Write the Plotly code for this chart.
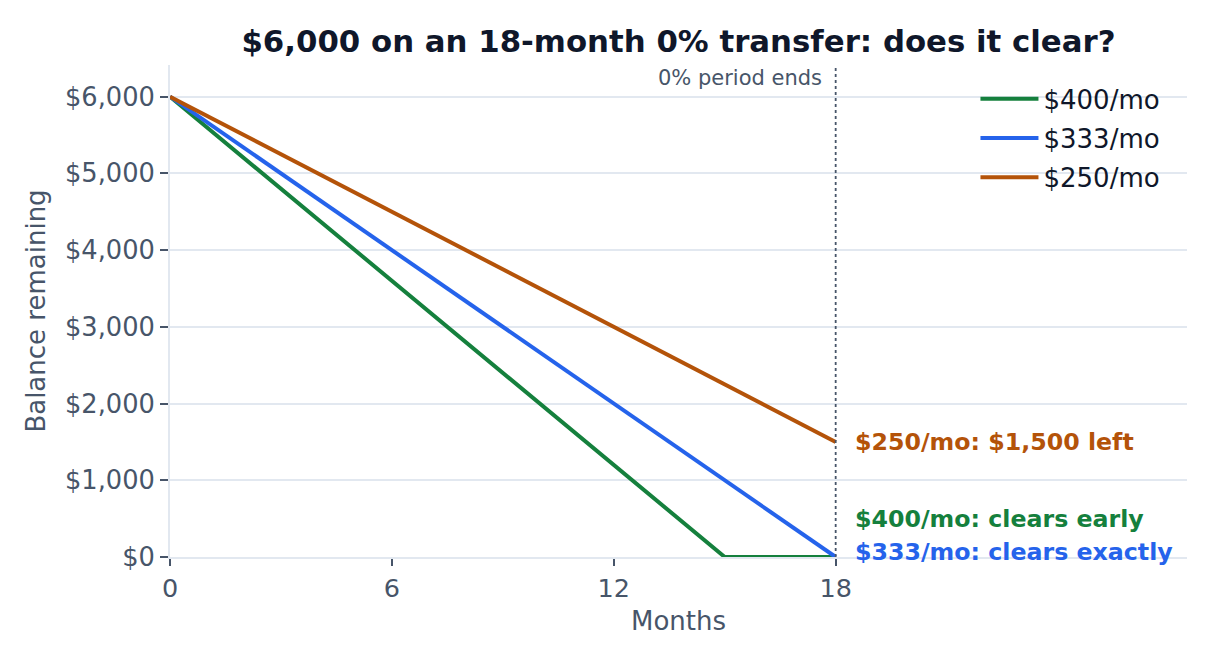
import plotly.graph_objects as go

# balance paths (month, balance remaining)
months_400 = [0, 15, 18]
balance_400 = [6000, 0, 0]
months_333 = [0, 18]
balance_333 = [6000, 0]
months_250 = [0, 18]
balance_250 = [6000, 1500]

series_names = ["$400/mo", "$333/mo", "$250/mo"]
series_colors = ["#15803d", "#2563eb", "#b45309"]
end_labels = ["$400/mo: clears early", "$333/mo: clears exactly", "$250/mo: $1,500 left"]
end_label_y = [500, 70, 1500]

promo_end = 18
x_ticks = [0, 6, 12, 18]

FONT = "DejaVu Sans"
INK = "#0f172a"
MUTED = "#475569"
GRID = "#e2e8f0"

W, H = 1208, 647  # page has an 8px body margin

fig = go.Figure()
for name, xs, ys, col in zip(series_names,
                             [months_400, months_333, months_250],
                             [balance_400, balance_333, balance_250],
                             series_colors):
    fig.add_trace(go.Scatter(x=xs, y=ys, mode="lines", name=name, legendgroup=name,
                             line=dict(color=col, width=4)))

fig.add_vline(x=promo_end, line=dict(color=MUTED, width=1.8, dash="dot"))
fig.add_annotation(x=promo_end, y=1, xref="x", yref="paper", text="0% period ends",
                   showarrow=False, xanchor="right", yanchor="middle", xshift=-12, yshift=-13,
                   font=dict(family=FONT, size=21, color=MUTED))

for txt, yv, col in zip(end_labels, end_label_y, series_colors):
    fig.add_annotation(x=promo_end, y=yv, text=txt, showarrow=False,
                       xanchor="left", yanchor="middle", xshift=17,
                       font=dict(family=FONT, size=23.7, color=col, weight="bold"))

fig.update_layout(
    width=W, height=H,
    paper_bgcolor="white", plot_bgcolor="white",
    margin=dict(l=162, r=29, t=57, b=98),
    font=dict(family=FONT, size=25.5, color=MUTED),
    title=dict(text="<b>$6,000 on an 18-month 0% transfer: does it clear?</b>",
               x=0.5, xref="paper", xanchor="center",
               y=1 - 33 / H, yref="container", yanchor="middle",
               font=dict(family=FONT, size=30.8, color=INK)),
    legend=dict(x=0.792, y=0.979, xanchor="left", yanchor="top",
                font=dict(family=FONT, size=26, color=INK), bgcolor="rgba(0,0,0,0)",
                itemwidth=58, tracegroupgap=2.5),
    showlegend=True,
)
fig.update_xaxes(range=[0, 27.5], tickvals=x_ticks,
                 title=dict(text="Months", standoff=10, font=dict(size=26, color=MUTED)),
                 tickfont=dict(size=25.5, color=MUTED),
                 showgrid=False, showline=True, linecolor=GRID, linewidth=2,
                 ticks="outside", ticklen=7, tickwidth=2, tickcolor=MUTED, zeroline=False)
fig.update_yaxes(range=[0, 6413], dtick=1000, tickprefix="$", tickformat=",",
                 title=dict(text="Balance remaining", standoff=12, font=dict(size=26, color=MUTED)),
                 tickfont=dict(size=25.7, color=MUTED),
                 showgrid=True, gridcolor=GRID, gridwidth=1.5,
                 showline=True, linecolor=GRID, linewidth=2,
                 ticks="outside", ticklen=8, tickwidth=2, tickcolor=MUTED,
                 zeroline=True, zerolinecolor=GRID, zerolinewidth=2)

fig.write_html("out.html")
